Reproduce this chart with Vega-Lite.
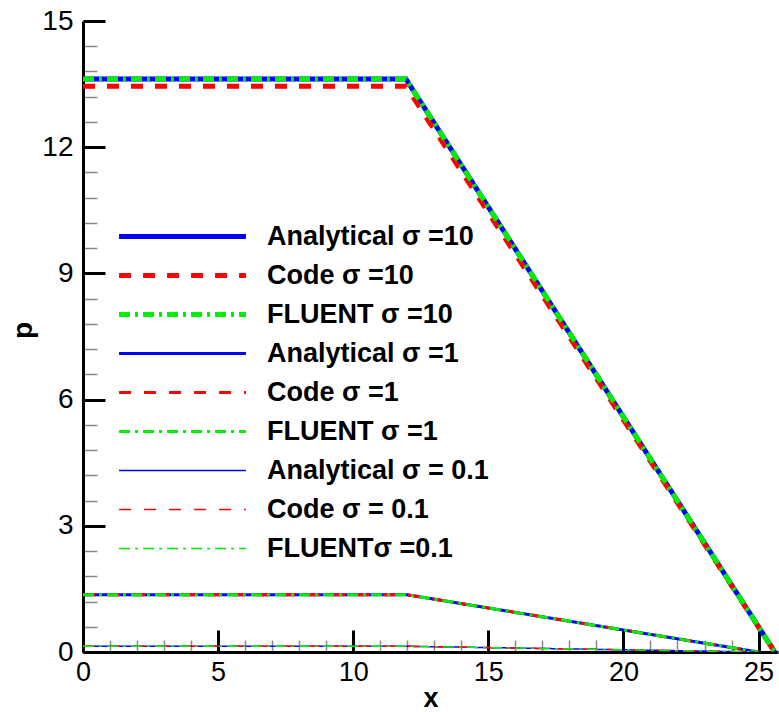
{
  "$schema": "https://vega.github.io/schema/vega-lite/v6.json",
  "autosize": "none",
  "width": 695,
  "height": 631,
  "padding": {"left": 83, "top": 21, "right": 1, "bottom": 60},
  "background": "white",
  "config": {"view": {"stroke": null}, "font": "Liberation Sans"},
  "data": {
    "values": [
      {"series": "Analytical σ =10", "x": 0, "p": 13.62},
      {"series": "Analytical σ =10", "x": 11.95, "p": 13.62},
      {"series": "Analytical σ =10", "x": 25.6, "p": 0},
      {"series": "Code σ =10", "x": 0, "p": 13.45},
      {"series": "Code σ =10", "x": 11.95, "p": 13.45},
      {"series": "Code σ =10", "x": 25.6, "p": 0},
      {"series": "FLUENT σ =10", "x": 0, "p": 13.62},
      {"series": "FLUENT σ =10", "x": 11.95, "p": 13.62},
      {"series": "FLUENT σ =10", "x": 25.6, "p": 0},
      {"series": "Analytical σ =1", "x": 0, "p": 1.36},
      {"series": "Analytical σ =1", "x": 12.0, "p": 1.36},
      {"series": "Analytical σ =1", "x": 25.0, "p": 0},
      {"series": "Code σ =1", "x": 0, "p": 1.36},
      {"series": "Code σ =1", "x": 12.0, "p": 1.36},
      {"series": "Code σ =1", "x": 25.0, "p": 0},
      {"series": "FLUENT σ =1", "x": 0, "p": 1.36},
      {"series": "FLUENT σ =1", "x": 12.0, "p": 1.36},
      {"series": "FLUENT σ =1", "x": 25.0, "p": 0},
      {"series": "Analytical σ = 0.1", "x": 0, "p": 0.136},
      {"series": "Analytical σ = 0.1", "x": 12.0, "p": 0.136},
      {"series": "Analytical σ = 0.1", "x": 25.0, "p": 0},
      {"series": "Code σ = 0.1", "x": 0, "p": 0.136},
      {"series": "Code σ = 0.1", "x": 12.0, "p": 0.136},
      {"series": "Code σ = 0.1", "x": 25.0, "p": 0},
      {"series": "FLUENTσ =0.1", "x": 0, "p": 0.136},
      {"series": "FLUENTσ =0.1", "x": 12.0, "p": 0.136},
      {"series": "FLUENTσ =0.1", "x": 25.0, "p": 0}
    ]
  },
  "mark": {"type": "line", "clip": true},
  "encoding": {
    "x": {
      "field": "x",
      "type": "quantitative",
      "scale": {"domain": [0, 25.72], "nice": false, "zero": false},
      "axis": {
        "title": "x",
        "titleFont": "Liberation Sans",
        "titleFontSize": 27,
        "titleFontWeight": "bold",
        "titleY": 46,
        "titleBaseline": "middle",
        "values": [0,1,2,3,4,5,6,7,8,9,10,11,12,13,14,15,16,17,18,19,20,21,22,23,24,25],
        "labelExpr": "datum.value % 5 === 0 ? datum.label : ''",
        "labelFont": "Liberation Sans",
        "labelFontSize": 27,
        "labelColor": "black",
        "labelBaseline": "top",
        "labelPadding": 29,
        "labelFlush": false,
        "labelOverlap": false,
        "domainColor": "black",
        "domainWidth": 3,
        "grid": false,
        "tickSize": {"condition": {"test": "datum.value % 5 === 0", "value": -22}, "value": -12},
        "tickColor": {"condition": {"test": "datum.value % 5 === 0", "value": "black"}, "value": "#888888"},
        "tickWidth": {"condition": {"test": "datum.value % 5 === 0", "value": 3}, "value": 1.5}
      }
    },
    "y": {
      "field": "p",
      "type": "quantitative",
      "scale": {"domain": [0, 15], "nice": false},
      "axis": {
        "title": "p",
        "titleFont": "Liberation Sans",
        "titleFontSize": 28,
        "titleFontWeight": "bold",
        "titleX": -60,
        "titleY": 309,
        "titleBaseline": "middle",
        "values": [0,0.6,1.2,1.8,2.4,3,3.6,4.2,4.8,5.4,6,6.6,7.2,7.8,8.4,9,9.6,10.2,10.8,11.4,12,12.6,13.2,13.8,14.4,15],
        "labelExpr": "abs(datum.value/3 - round(datum.value/3)) < 0.01 ? format(datum.value, 'd') : ''",
        "labelFont": "Liberation Sans",
        "labelFontSize": 28,
        "labelColor": "black",
        "labelPadding": 32,
        "labelFlush": false,
        "labelOverlap": false,
        "domainColor": "black",
        "domainWidth": 3,
        "grid": false,
        "tickSize": {"condition": {"test": "abs(datum.value/3 - round(datum.value/3)) < 0.01", "value": -22}, "value": -14},
        "tickColor": {"condition": {"test": "abs(datum.value/3 - round(datum.value/3)) < 0.01", "value": "black"}, "value": "#888888"},
        "tickWidth": {"condition": {"test": "abs(datum.value/3 - round(datum.value/3)) < 0.01", "value": 3}, "value": 1.5}
      }
    },
    "color": {
      "field": "series",
      "type": "nominal",
      "scale": {
        "domain": ["Analytical σ =10", "Code σ =10", "FLUENT σ =10", "Analytical σ =1", "Code σ =1", "FLUENT σ =1", "Analytical σ = 0.1", "Code σ = 0.1", "FLUENTσ =0.1"],
        "range": ["#0000FF", "#FF0000", "#00EE00", "#0000FF", "#FF0000", "#00EE00", "#0000FF", "#FF0000", "#00EE00"]
      },
      "legend": {
        "title": null,
        "orient": "none",
        "legendX": 86,
        "legendY": 202,
        "padding": 0,
        "symbolType": "M-10,0H10",
        "symbolSize": 161,
        "labelFont": "Liberation Sans",
        "labelFontSize": 27,
        "labelFontWeight": "bold",
        "labelColor": "black",
        "labelOffset": 71,
        "labelLimit": 0,
        "rowPadding": 11
      }
    },
    "strokeDash": {
      "field": "series",
      "type": "nominal",
      "scale": {
        "domain": ["Analytical σ =10", "Code σ =10", "FLUENT σ =10", "Analytical σ =1", "Code σ =1", "FLUENT σ =1", "Analytical σ = 0.1", "Code σ = 0.1", "FLUENTσ =0.1"],
        "range": [[1, 0], [12, 12], [11, 5, 3, 5], [1, 0], [12, 13], [11, 5, 3, 5], [1, 0], [12, 13], [11, 5, 3, 5]]
      },
      "legend": {
        "title": null,
        "orient": "none",
        "legendX": 86,
        "legendY": 202,
        "padding": 0,
        "symbolType": "M-10,0H10",
        "symbolSize": 161,
        "labelFont": "Liberation Sans",
        "labelFontSize": 27,
        "labelFontWeight": "bold",
        "labelColor": "black",
        "labelOffset": 71,
        "labelLimit": 0,
        "rowPadding": 11
      }
    },
    "strokeWidth": {
      "field": "series",
      "type": "nominal",
      "scale": {
        "type": "ordinal",
        "domain": ["Analytical σ =10", "Code σ =10", "FLUENT σ =10", "Analytical σ =1", "Code σ =1", "FLUENT σ =1", "Analytical σ = 0.1", "Code σ = 0.1", "FLUENTσ =0.1"],
        "range": [5, 5, 5, 3, 3, 3, 1.5, 1.5, 1.5]
      },
      "legend": {
        "title": null,
        "orient": "none",
        "legendX": 86,
        "legendY": 202,
        "padding": 0,
        "symbolType": "M-10,0H10",
        "symbolSize": 161,
        "labelFont": "Liberation Sans",
        "labelFontSize": 27,
        "labelFontWeight": "bold",
        "labelColor": "black",
        "labelOffset": 71,
        "labelLimit": 0,
        "rowPadding": 11
      }
    }
  }
}
